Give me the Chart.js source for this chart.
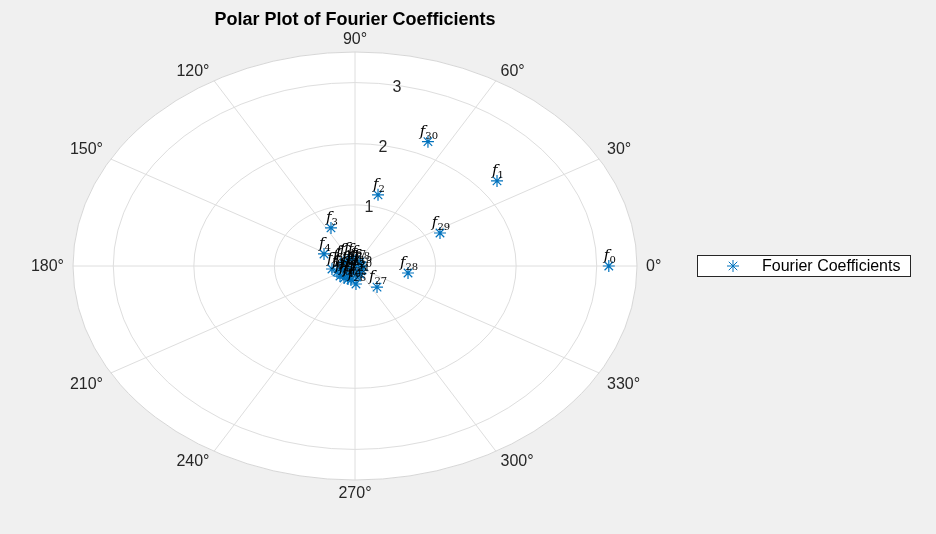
<!DOCTYPE html>
<html>
<head>
<meta charset="utf-8">
<script src="https://cdn.jsdelivr.net/npm/chart.js@4.4.1/dist/chart.umd.min.js"></script>
<style>
  html, body { margin: 0; padding: 0; background: #f0f0f0; }
  #chart { display: block; }
</style>
</head>
<body>
<canvas id="chart" width="936" height="534"></canvas>
<script>
  // coefficient index k for the labels f_k
  var coefIndex = [0, 1, 2, 3, 4, 5, 6, 7, 8, 9, 10, 11, 12, 13, 14, 15,
                   16, 17, 18, 19, 20, 21, 22, 23, 24, 25, 26, 27, 28, 29, 30];
  // magnitude |f_k|
  var magnitude = [3.15, 2.246, 1.198, 0.69, 0.432, 0.29, 0.244, 0.248, 0.239, 0.23, 0.235,
                   0.164, 0.163, 0.174, 0.151, 0.131, 0.121, 0.099, 0.09, 0.087, 0.109,
                   0.145, 0.182, 0.118, 0.07, 0.033, 0.295, 0.44, 0.668, 1.185, 2.226];
  // phase of f_k in degrees
  var phaseDeg = [0, 38.3, 76.2, 115.6, 152.9, 189.8, 203.7, 221.4, 235.4, 247.8, 257.7,
                  232.9, 203.9, 180, 154, 131.6, 107.8, 83, 46.8, 0, 322.8,
                  295.3, 277.9, 257.7, 208, 270, 272.3, 308.4, 350.1, 27.1, 66];
  var rTicks = [1, 2, 3];
  var rMax = 3.5;
  var thetaTicks = [0, 30, 60, 90, 120, 150, 180, 210, 240, 270, 300, 330];

  var points = magnitude.map(function (r, i) {
      var t = phaseDeg[i] * Math.PI / 180;
      return { x: r * Math.cos(t), y: r * Math.sin(t), k: coefIndex[i] };
  });

  var gridColor = '#dedede';
  var textColor = '#262626';
  var sansFont = '"Liberation Sans", Arial, sans-serif';
  var texFont = '"DejaVu Serif", "Liberation Serif", serif';

  function polarFrame(chart) {
      var xs = chart.scales.x, ys = chart.scales.y;
      var cx = xs.getPixelForValue(0), cy = ys.getPixelForValue(0);
      return {
          cx: cx, cy: cy,
          rx: xs.getPixelForValue(rMax) - cx,
          ry: cy - ys.getPixelForValue(rMax),
          sx: xs.getPixelForValue(1) - cx,
          sy: cy - ys.getPixelForValue(1)
      };
  }

  var polarGrid = {
      id: 'polarGrid',
      beforeDatasetsDraw: function (chart) {
          var ctx = chart.ctx, f = polarFrame(chart);
          ctx.save();
          ctx.fillStyle = '#ffffff';
          ctx.beginPath();
          ctx.ellipse(f.cx, f.cy, f.rx, f.ry, 0, 0, Math.PI * 2);
          ctx.fill();

          ctx.strokeStyle = gridColor;
          ctx.lineWidth = 1;
          rTicks.forEach(function (r) {
              ctx.beginPath();
              ctx.ellipse(f.cx, f.cy, f.sx * r, f.sy * r, 0, 0, Math.PI * 2);
              ctx.stroke();
          });
          thetaTicks.forEach(function (d) {
              var t = d * Math.PI / 180;
              ctx.beginPath();
              ctx.moveTo(f.cx, f.cy);
              ctx.lineTo(f.cx + f.rx * Math.cos(t), f.cy - f.ry * Math.sin(t));
              ctx.stroke();
          });
          ctx.strokeStyle = '#d6d6d6';
          ctx.beginPath();
          ctx.ellipse(f.cx, f.cy, f.rx, f.ry, 0, 0, Math.PI * 2);
          ctx.stroke();

          // r tick labels along 80 degrees
          ctx.fillStyle = textColor;
          ctx.font = '16px ' + sansFont;
          ctx.textAlign = 'center';
          ctx.textBaseline = 'middle';
          var a = 80 * Math.PI / 180;
          rTicks.forEach(function (r) {
              ctx.fillText(String(r), f.cx + f.sx * r * Math.cos(a), f.cy - f.sy * r * Math.sin(a) + 2);
          });

          // theta tick labels
          ctx.font = '16px ' + sansFont;
          thetaTicks.forEach(function (d) {
              var t = d * Math.PI / 180;
              var c = Math.cos(t), s = Math.sin(t);
              var px = f.cx + f.rx * c + 9 * c;
              var py = f.cy - f.ry * s - 5 * s;
              ctx.textAlign = c > 0.1 ? 'left' : (c < -0.1 ? 'right' : 'center');
              ctx.textBaseline = s > 0.1 ? 'bottom' : (s < -0.1 ? 'top' : 'middle');
              if (Math.abs(s) > 0.6 && Math.abs(s) < 0.95) py += 3 * s;
              ctx.fillText(d + '\u00B0', px, py + 1);
          });

          // title
          ctx.font = 'bold 18px ' + sansFont;
          ctx.textAlign = 'center';
          ctx.textBaseline = 'middle';
          ctx.fillStyle = '#000000';
          ctx.fillText('Polar Plot of Fourier Coefficients', f.cx, 20);
          ctx.restore();
      },
      afterDatasetsDraw: function (chart) {
          var ctx = chart.ctx;
          var meta = chart.getDatasetMeta(0);
          ctx.save();
          ctx.fillStyle = '#000000';
          ctx.textBaseline = 'alphabetic';
          ctx.textAlign = 'left';
          meta.data.forEach(function (el, i) {
              var k = String(points[i].k);
              ctx.font = 'italic 15px ' + texFont;
              var wf = ctx.measureText('f').width;
              ctx.font = '10px ' + texFont;
              var wk = ctx.measureText(k).width;
              var x0 = el.x - (wf + wk) / 2 + 1;
              var y0 = el.y - 6;
              ctx.font = 'italic 15px ' + texFont;
              ctx.fillText('f', x0, y0);
              ctx.font = '10px ' + texFont;
              ctx.fillText(k, x0 + wf, y0 + 3);
          });
          ctx.restore();
      },
      afterDraw: function (chart) {
          var ctx = chart.ctx;
          ctx.save();
          ctx.fillStyle = '#ffffff';
          ctx.strokeStyle = '#262626';
          ctx.lineWidth = 1;
          ctx.fillRect(697.5, 255.5, 213, 21);
          ctx.strokeRect(697.5, 255.5, 213, 21);
          // legend marker
          var mx = 733, my = 266, mr = 6;
          ctx.strokeStyle = '#0072BD';
          ctx.beginPath();
          for (var j = 0; j < 4; j++) {
              var t = j * Math.PI / 4;
              ctx.moveTo(mx - mr * Math.cos(t), my - mr * Math.sin(t));
              ctx.lineTo(mx + mr * Math.cos(t), my + mr * Math.sin(t));
          }
          ctx.stroke();
          ctx.fillStyle = '#000000';
          ctx.font = '16px ' + sansFont;
          ctx.textAlign = 'left';
          ctx.textBaseline = 'middle';
          ctx.fillText('Fourier Coefficients', 762, 267);
          ctx.restore();
      }
  };

  var ctx = document.getElementById('chart').getContext('2d');
  window.polarChart = new Chart(ctx, {
      type: 'scatter',
      data: {
          datasets: [{
              label: 'Fourier Coefficients',
              data: points,
              pointStyle: 'star',
              pointRadius: 6,
              pointHoverRadius: 6,
              borderColor: '#0072BD',
              backgroundColor: '#0072BD',
              borderWidth: 1.2,
              clip: false
          }]
      },
      options: {
          responsive: false,
          animation: false,
          layout: {
              padding: { left: 73, right: 299, top: 52, bottom: 54 }
          },
          scales: {
              x: { type: 'linear', min: -rMax, max: rMax, display: false },
              y: { type: 'linear', min: -rMax, max: rMax, display: false }
          },
          plugins: {
              legend: { display: false },
              tooltip: { enabled: false }
          }
      },
      plugins: [polarGrid]
  });
</script>
</body>
</html>
